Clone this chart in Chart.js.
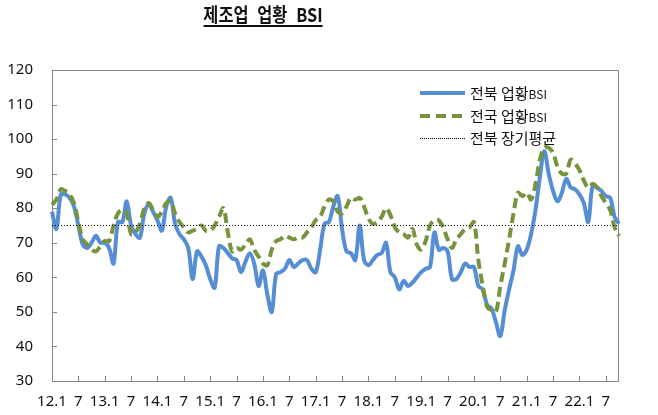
<!DOCTYPE html>
<html>
<head>
<meta charset="utf-8">
<script src="https://cdn.jsdelivr.net/npm/chart.js@4.4.0/dist/chart.umd.min.js"></script>
<style>
    html, body { margin: 0; padding: 0; background: #fff; }
    #wrap { position: relative; width: 658px; height: 415px; }
    #title {
        position: absolute; left: 263px; top: 2px;
        transform: translateX(-50%) scaleX(0.86);
        font-family: "Noto Sans CJK KR"; font-weight: bold; font-size: 19px;
        line-height: 24px; white-space: nowrap; color: #111; word-spacing: 6px;
        text-decoration: underline; text-decoration-thickness: 2px; text-underline-offset: 3px;
    }
    canvas { position: absolute; left: 0; top: 0; }
</style>
</head>
<body>
<div id="wrap">
    <canvas id="chart" width="658" height="415"></canvas>
    <div id="title">제조업 업황 BSI</div>
</div>
<script>
// monthly, 2012.1 ~ 2022.10
const months = [];
for (let y = 12; y <= 22; y++) {
    for (let m = 1; m <= 12; m++) {
        if (y === 22 && m > 10) break;
        months.push(y + '.' + m);
    }
}

const jeonbuk = [
    79, 74, 84, 84, 83, 80.5, 75, 69.5, 68.5, 70, 72, 70,
    70, 68.5, 64, 76, 76, 82, 75, 72.5, 71.5, 78.5, 81, 79,
    76.5, 73.5, 80.5, 83, 75.5, 72.5, 71, 68.5, 59.5, 67.5, 66, 63.5,
    59.5, 57, 69, 68.5, 67, 65.5, 65, 61.5, 64.5, 67, 64, 57.5,
    62, 55, 50, 61, 61.5, 62.5, 65, 63, 64, 65, 65, 62.5,
    61.5, 68, 75.5, 76, 80.5, 83.5, 74, 67.5, 67, 65, 75, 65,
    63.5, 65, 66.5, 67, 70, 61.5, 60, 56.5, 59, 57.5, 58.5, 60,
    61.5, 62.5, 63, 73, 68, 68.5, 67.5, 59.5, 59.5, 61.5, 64, 63,
    63, 57.5, 56.5, 52, 51, 47, 43, 50.5, 56.5, 62, 69, 66.5,
    68, 72.5, 79.5, 89, 96.5, 90, 85, 82, 84.5, 88.5, 86, 85.5,
    84, 81.5, 76, 86.5, 86, 85, 83.5, 83, 77.5, 75.5
];

const national = [
    81, 82.5, 85.5, 85, 84, 81.5, 76, 71, 69.5, 68, 67.5, 69,
    70.5, 70.5, 75, 78.5, 79.5, 78.5, 72.5, 73, 75.5, 80, 81.5, 79.5,
    77.5, 79, 81.5, 82, 78.5, 76, 74.5, 73, 73.5, 74, 75, 73.5,
    73.5, 75, 77.5, 80, 73, 67.5, 68.5, 68, 69.5, 71, 68, 66,
    64, 63.5, 68, 70.5, 71, 72, 71.5, 71, 71.5, 71.5, 73, 74.5,
    76.5, 77.5, 80.5, 82.5, 82, 79, 78.5, 80.5, 83, 82.5, 83, 80.5,
    77, 75.5, 76, 77.5, 80, 78, 74.5, 73, 72.5, 71.5, 74, 69.5,
    68, 70.5, 75, 76.5, 76.5, 74.5, 71, 68.5, 71, 72.5, 74, 74.5,
    76, 65, 57.5, 51.5, 50.5, 50, 57.5, 64, 71, 78.5, 84.5, 83.5,
    84.5, 82.5, 87, 94, 97.5, 97.5, 96, 92, 90, 90, 94, 93,
    91, 88, 86, 87, 86, 83.5, 81.5, 79.5, 74.5, 72
];

const longRunAvg = 75;
const yTicks = [30, 40, 50, 60, 70, 80, 90, 100, 110, 120];

const BLUE = '#558ED5';
const GREEN = '#77933C';
const FRAME = '#868686';

const seriesNames = ['전북 업황', '전국 업황', '전북 장기평균'];

// plot frame and inward tick marks
const framePlugin = {
    id: 'frame',
    beforeDatasetsDraw(chart) {
        const { ctx, chartArea: a, scales: { x, y } } = chart;
        ctx.save();
        ctx.strokeStyle = FRAME;
        ctx.lineWidth = 1;
        ctx.strokeRect(a.left + 0.5, a.top + 0.5, a.right - a.left - 1, a.bottom - a.top);
        ctx.beginPath();
        yTicks.forEach(v => {
            const py = Math.round(y.getPixelForValue(v)) + 0.5;
            ctx.moveTo(a.left, py);
            ctx.lineTo(a.left + 5, py);
        });
        for (let i = 6; i < months.length; i += 6) {
            const px = Math.round(x.getPixelForValue(i)) + 0.5;
            ctx.moveTo(px, a.bottom);
            ctx.lineTo(px, a.bottom - 5);
        }
        ctx.stroke();
        ctx.restore();
    }
};

// legend drawn inside the plot, upper right
const legendPlugin = {
    id: 'innerLegend',
    afterDraw(chart) {
        const ctx = chart.ctx;
        const x0 = 420, x1 = 465, tx = 470;
        const rows = [93, 116, 138];
        ctx.save();
        ctx.lineCap = 'butt';

        ctx.strokeStyle = BLUE; ctx.lineWidth = 4; ctx.setLineDash([]);
        ctx.beginPath(); ctx.moveTo(x0, rows[0]); ctx.lineTo(x1, rows[0]); ctx.stroke();

        ctx.strokeStyle = GREEN; ctx.lineWidth = 4; ctx.setLineDash([10, 6]);
        ctx.beginPath(); ctx.moveTo(x0, rows[1]); ctx.lineTo(x1, rows[1]); ctx.stroke();

        ctx.strokeStyle = '#000'; ctx.lineWidth = 1; ctx.setLineDash([1, 1]);
        ctx.beginPath(); ctx.moveTo(x0, rows[2] + 0.5); ctx.lineTo(x1, rows[2] + 0.5); ctx.stroke();

        ctx.fillStyle = '#111';
        ctx.textBaseline = 'middle';
        for (let i = 0; i < 3; i++) {
            ctx.font = '15px "Noto Sans CJK KR"';
            ctx.fillText(seriesNames[i], tx, rows[i]);
            if (i < 2) {
                const w = ctx.measureText(seriesNames[i]).width;
                ctx.font = '12px "Noto Sans CJK KR"';
                ctx.fillText('BSI', tx + w, rows[i] + 1);
            }
        }
        ctx.restore();
    }
};

new Chart(document.getElementById('chart'), {
    type: 'line',
    data: {
        labels: months,
        datasets: [
            {
                label: '전북 업황BSI',
                data: jeonbuk,
                borderColor: BLUE,
                borderWidth: 4,
                pointRadius: 0,
                tension: 0.35,
                order: 2
            },
            {
                label: '전국 업황BSI',
                data: national,
                borderColor: GREEN,
                borderWidth: 4,
                borderDash: [10, 5],
                pointRadius: 0,
                tension: 0.35,
                order: 1
            },
            {
                label: '전북 장기평균',
                data: months.map(() => longRunAvg),
                borderColor: '#000',
                borderWidth: 1,
                borderDash: [1, 2],
                pointRadius: 0,
                order: 0
            }
        ]
    },
    options: {
        responsive: false,
        animation: false,
        layout: { padding: { top: 70, right: 39, left: 0, bottom: 0 } },
        plugins: {
            legend: { display: false },
            tooltip: { enabled: false },
            title: { display: false }
        },
        scales: {
            x: {
                offset: false,
                grid: { display: false, drawTicks: false },
                border: { display: false },
                ticks: {
                    autoSkip: false,
                    maxRotation: 0,
                    padding: 12,
                    color: '#111',
                    font: { family: '"Noto Sans"', size: 15 },
                    callback: function(val, idx) {
                        if (idx % 6 !== 0) return '';
                        const m = months[idx].split('.')[1];
                        return m === '1' ? months[idx] : m;
                    }
                },
                afterFit: s => { s.height = 34; }
            },
            y: {
                min: 30,
                max: 120,
                grid: { display: false, drawTicks: false },
                border: { display: false },
                ticks: {
                    stepSize: 10,
                    padding: 19,
                    color: '#111',
                    font: { family: '"Noto Sans"', size: 15 }
                },
                afterFit: s => { s.width = 52; }
            }
        }
    },
    plugins: [framePlugin, legendPlugin]
});
</script>
</body>
</html>
